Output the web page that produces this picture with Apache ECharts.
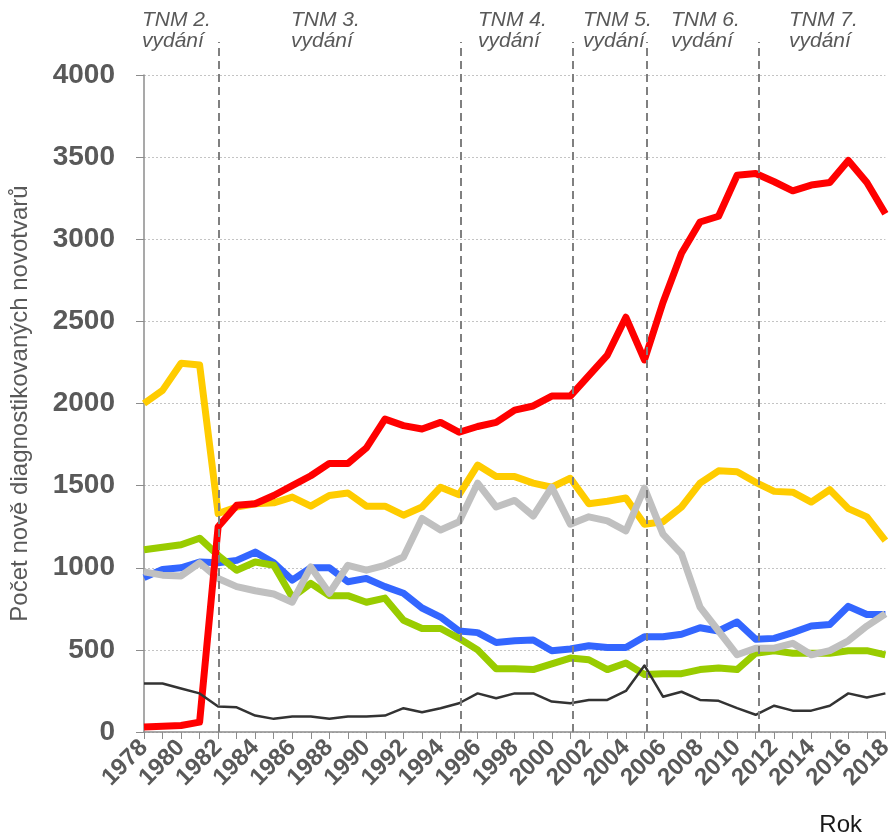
<!DOCTYPE html>
<html>
<head>
<meta charset="utf-8">
<script src="https://cdn.jsdelivr.net/npm/echarts@6/dist/echarts.min.js"></script>
<style>
  html, body { margin: 0; padding: 0; background: #fff; }
  #chart { width: 896px; height: 840px; }
</style>
</head>
<body>
<div id="chart"></div>
<script>
const years = ['1978','1979','1980','1981','1982','1983','1984','1985','1986','1987',
  '1988','1989','1990','1991','1992','1993','1994','1995','1996','1997',
  '1998','1999','2000','2001','2002','2003','2004','2005','2006','2007',
  '2008','2009','2010','2011','2012','2013','2014','2015','2016','2017','2018']

const red = [30,35,40,60,1250,1380,1390,1440,1500,1560,1635,1635,1730,1905,1865,1845,1885,1825,1860,1885,
  1960,1985,2045,2045,2170,2295,2525,2265,2615,2915,3105,3140,3390,3400,3350,3295,3330,3345,3480,3345,3155]
const yellow = [2000,2080,2245,2235,1330,1370,1390,1395,1430,1375,1440,1455,1375,1375,1320,1370,1490,1445,1625,1555,
  1555,1515,1490,1545,1390,1405,1425,1265,1280,1370,1515,1590,1585,1520,1465,1460,1400,1475,1360,1310,1165]
const gray = [975,955,950,1030,935,885,860,840,790,1005,845,1015,985,1015,1065,1300,1230,1280,1515,1370,
  1410,1315,1490,1265,1310,1285,1225,1485,1205,1085,760,615,470,510,510,540,470,495,555,645,720]
const blue = [940,990,1000,1035,1030,1045,1095,1030,925,1000,1000,915,935,885,845,755,700,615,605,545,
  555,560,495,505,525,515,515,580,580,595,635,615,670,565,570,605,645,655,765,715,715]
const green = [1110,1125,1140,1180,1075,985,1035,1015,820,905,830,830,790,815,680,630,630,570,500,385,
  385,380,415,450,440,380,420,350,355,355,380,390,380,480,495,480,480,480,495,495,470]
const black = [295,295,265,235,155,150,100,80,95,95,80,95,95,100,145,120,145,175,235,205,
  235,235,185,175,195,195,250,405,215,245,195,190,145,105,160,130,130,160,235,210,235]

// hranice vydani TNM
const editionYears = ['1982','1995','2001','2005','2011']
const editionLabels = ['TNM 2.\nvydání','TNM 3.\nvydání','TNM 4.\nvydání','TNM 5.\nvydání','TNM 6.\nvydání','TNM 7.\nvydání']
const editionLabelLeft = [142, 291, 478, 583, 671, 789]

const font = 'Liberation Sans, Arial, sans-serif'

const lineSeries = (name, data, color, width) => ({
  name: name,
  type: 'line',
  data: data,
  showSymbol: false,
  symbol: 'none',
  lineStyle: { color: color, width: width, join: 'round' },
  itemStyle: { color: color },
  z: 3,
})

const option = {
  animation: false,
  backgroundColor: '#fff',
  grid: [
    { left: 144, right: 7, top: 75, bottom: 108 },
    { left: 144, right: 7, top: 42, bottom: 108 },
  ],
  xAxis: [
    {
      type: 'category',
      data: years,
      boundaryGap: false,
      axisLine: { lineStyle: { color: '#8c8c8c', width: 1.5 } },
      axisTick: { show: true, interval: 0, length: 7, lineStyle: { color: '#8c8c8c' } },
      axisLabel: {
        interval: 1,
        rotate: 45,
        margin: 12,
        color: '#595959',
        fontFamily: font,
        fontWeight: 'bold',
        fontSize: 24,
      },
      splitLine: { show: false },
    },
    {
      type: 'category',
      gridIndex: 1,
      data: years,
      boundaryGap: false,
      show: false,
    },
  ],
  yAxis: [
    {
      type: 'value',
      min: 0,
      max: 4000,
      interval: 500,
      name: 'Počet nově diagnostikovaných novotvarů',
      nameLocation: 'middle',
      nameGap: 112,
      nameTextStyle: { color: '#595959', fontFamily: font, fontSize: 24 },
      axisLine: { show: true, lineStyle: { color: '#8c8c8c', width: 1.5 } },
      axisTick: { show: true, length: 8, lineStyle: { color: '#8c8c8c' } },
      axisLabel: {
        margin: 29,
        color: '#595959',
        fontFamily: font,
        fontWeight: 'bold',
        fontSize: 28,
        formatter: v => String(v),
      },
      splitLine: { lineStyle: { color: '#c4c4c4', type: [2, 2], width: 1 } },
    },
    {
      type: 'value',
      gridIndex: 1,
      min: 0,
      max: 1,
      show: false,
    },
  ],
  graphic: editionLabels.map((t, i) => ({
    type: 'text',
    left: editionLabelLeft[i],
    top: 10,
    style: {
      text: t,
      fill: '#595959',
      font: 'italic 21px ' + font,
      lineHeight: 21,
    },
  })).concat([{
    type: 'text',
    right: 34,
    top: 813,
    style: { text: 'Rok', fill: '#1a1a1a', font: '24px ' + font },
  }]),
  series: [
    lineSeries('yellow', yellow, '#ffcc00', 7),
    lineSeries('blue', blue, '#3366ff', 7),
    lineSeries('green', green, '#99cc00', 7),
    lineSeries('gray', gray, '#c0c0c0', 7),
    lineSeries('red', red, '#ff0000', 7),
    lineSeries('black', black, '#333333', 2.5),
    {
      type: 'line',
      xAxisIndex: 1,
      yAxisIndex: 1,
      data: years.map(() => '-'),
      symbol: 'none',
      silent: true,
      z: 2,
      markLine: {
        silent: true,
        symbol: ['none', 'none'],
        label: { show: false },
        lineStyle: { color: '#808080', type: [8, 5], width: 2 },
        data: editionYears.map(y => ({ xAxis: y })),
      },
    },
  ],
}

const myChart = echarts.init(document.getElementById('chart'), null, { renderer: 'canvas' })
option && myChart.setOption(option)
</script>
</body>
</html>
